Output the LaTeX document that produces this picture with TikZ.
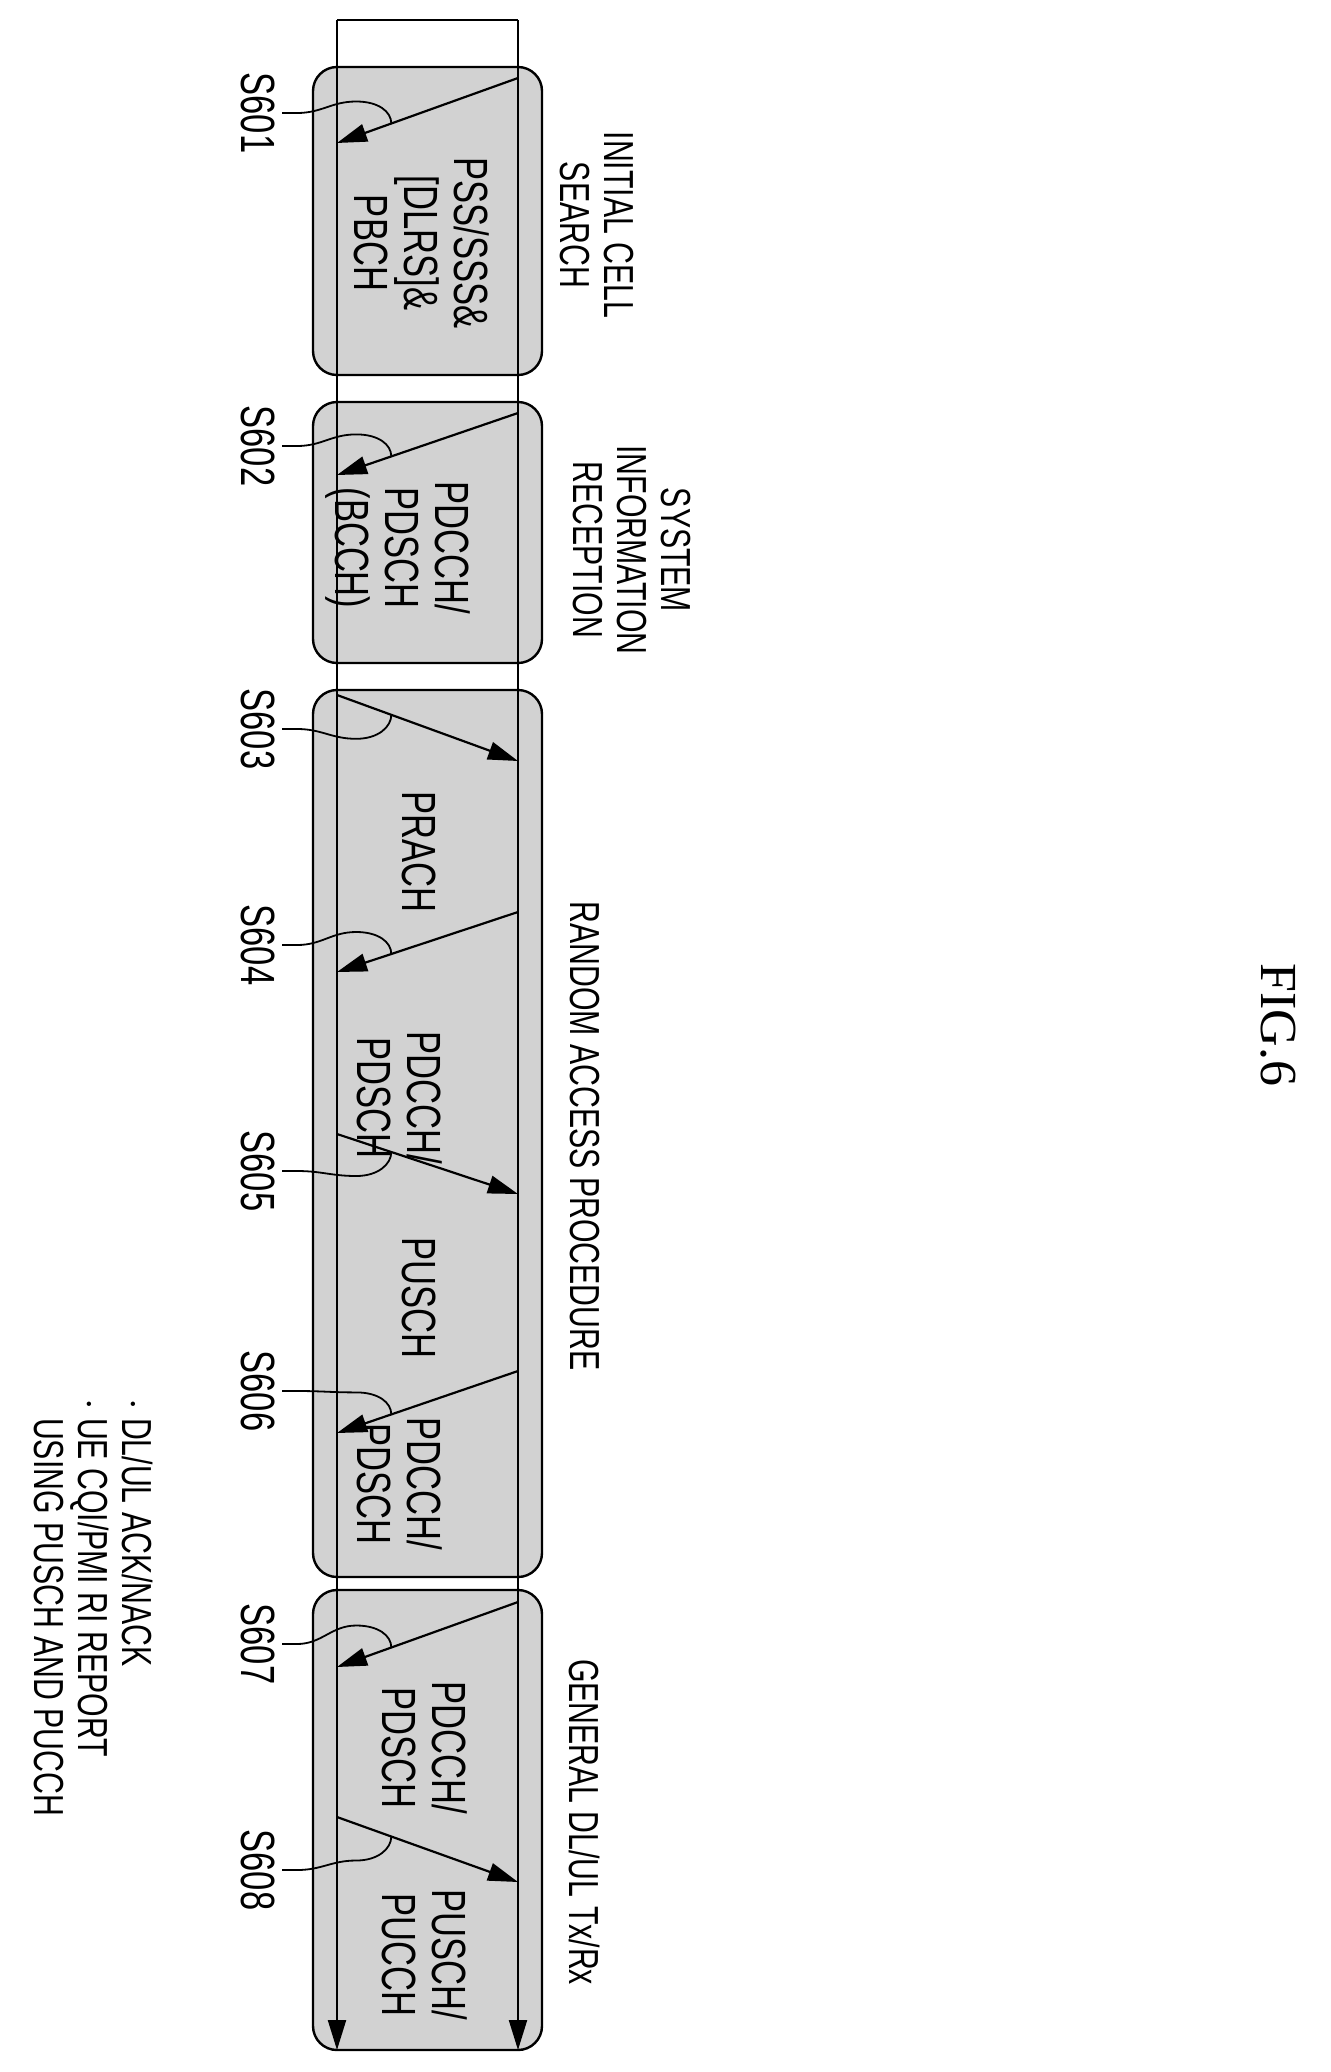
\documentclass[tikz,border=0pt]{standalone}
\usepackage{fontspec}
\setmainfont{Liberation Sans}[FakeStretch=0.72]
\newfontfamily\figfont{Liberation Serif}
\usetikzlibrary{arrows.meta, calc}
\tikzset{
  phase/.style={draw, line width=1.2pt, fill=gray!35, rounded corners=12pt},
  boxtext/.style={rotate=-90, align=center, font=\fontsize{24}{25}\selectfont},
  title/.style={rotate=-90, align=center, font=\fontsize{21}{22}\selectfont},
  steplabel/.style={rotate=-90, font=\fontsize{24}{25}\selectfont},
  sig/.style={line width=1.1pt, -{Triangle[length=15pt,width=9pt]}},
  lead/.style={line width=0.9pt}
}
\newcommand{\leadup}[2]{\draw[lead] (#1.north) -- ++(15,0) .. controls +(25,0) and +(-25,0) .. ($(#2)+(-35,-22)$) .. controls +(22,0) and +(0,-12) .. (#2);}
\newcommand{\leaddown}[2]{\draw[lead] (#1.north) -- ++(15,0) .. controls +(25,0) and +(-25,0) .. ($(#2)+(-35,24)$) .. controls +(22,0) and +(0,12) .. (#2);}
\begin{document}
\begin{tikzpicture}[x=0.5pt, y=-0.5pt]
  \useasboundingbox (0,0) rectangle (1331,2072);
  % phases
  \draw[phase] (313,67) rectangle (542,375);
  \draw[phase] (313,402) rectangle (542,663);
  \draw[phase] (313,690) rectangle (542,1577);
  \draw[phase] (313,1590) rectangle (542,2050);
  % UE and eNB lines
  \coordinate (ue0) at (337,20);
  \coordinate (bs0) at (518,20);
  \draw[line width=1.2pt] (ue0) -- (bs0);
  \draw[sig] (ue0) -- (337,2050);
  \draw[sig] (bs0) -- (518,2050);
  % signals
  \draw[sig] (518,78) -- (337,143) coordinate[pos=0.7] (m1);
  \draw[sig] (518,413) -- (337,475) coordinate[pos=0.7] (m2);
  \draw[sig] (337,695) -- (518,761) coordinate[pos=0.3] (m3);
  \draw[sig] (518,912) -- (337,972) coordinate[pos=0.7] (m4);
  \draw[sig] (337,1134) -- (518,1194) coordinate[pos=0.3] (m5);
  \draw[sig] (518,1371) -- (337,1433) coordinate[pos=0.7] (m6);
  \draw[sig] (518,1602) -- (337,1667) coordinate[pos=0.7] (m7);
  \draw[sig] (337,1817) -- (518,1882) coordinate[pos=0.3] (m8);
  % box texts
  \node[boxtext] (pss) at (422,243) {PSS/SSS\&\\{}[DLRS]\&\\PBCH};
  \node[boxtext] (bcch) at (398,548) {PDCCH/\\PDSCH\\(BCCH)};
  \node[boxtext] (prach) at (419,852) {PRACH};
  \node[boxtext] (rar) at (400,1098) {PDCCH/\\PDSCH};
  \node[boxtext] (msg3) at (419,1298) {PUSCH};
  \node[boxtext] (cont) at (400,1484) {PDCCH/\\PDSCH};
  \node[boxtext] (dl) at (425,1748) {PDCCH/\\PDSCH};
  \node[boxtext] (ul) at (425,1955) {PUSCH/\\PUCCH};
  % phase titles
  \node[title] (search) at (597,225) {INITIAL CELL\\SEARCH};
  \node[title] (sysinfo) at (632,550) {SYSTEM\\INFORMATION\\RECEPTION};
  \node[title] (rach) at (585,1136) {RANDOM ACCESS PROCEDURE};
  \node[title] (general) at (585,1822) {GENERAL DL/UL Tx/Rx};
  \node[title, align=left, anchor=north west] (notes) at (160,1391)
    {$\cdot$ DL/UL ACK/NACK\\$\cdot$ UE CQI/PMI RI REPORT\\\phantom{$\cdot$ }USING PUSCH AND PUCCH};
  \node[rotate=-90, font=\figfont\fontsize{26}{28}\selectfont] (fig) at (1278,1025) {FIG.6};
  % step labels
  \node[steplabel] (s1) at (258,113) {S601};
  \node[steplabel] (s2) at (258,446) {S602};
  \node[steplabel] (s3) at (258,729) {S603};
  \node[steplabel] (s4) at (258,945) {S604};
  \node[steplabel] (s5) at (258,1171) {S605};
  \node[steplabel] (s6) at (258,1391) {S606};
  \node[steplabel] (s7) at (258,1644) {S607};
  \node[steplabel] (s8) at (258,1870) {S608};
  \leadup{s1}{m1}
  \leadup{s2}{m2}
  \leaddown{s3}{m3}
  \leadup{s4}{m4}
  \leaddown{s5}{m5}
  \leadup{s6}{m6}
  \leadup{s7}{m7}
  \leaddown{s8}{m8}
\end{tikzpicture}
\end{document}
